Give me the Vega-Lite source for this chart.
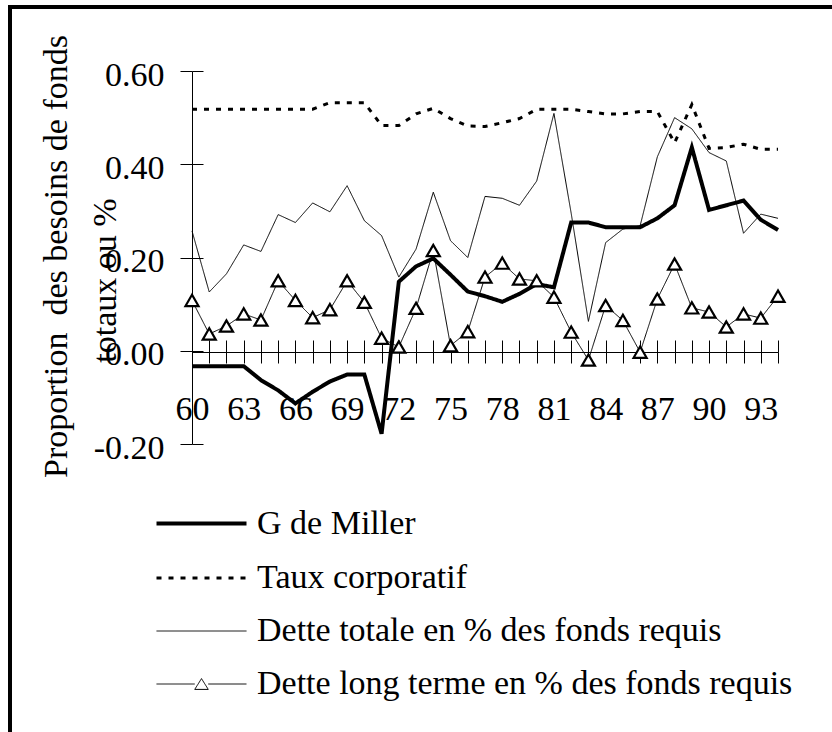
{
  "$schema": "https://vega.github.io/schema/vega-lite/v6.json",
  "width": 826,
  "height": 729,
  "autosize": {"type": "none"},
  "padding": {"left": 10, "top": 7, "right": -4, "bottom": -4},
  "background": "white",
  "config": {
    "view": {"stroke": "black", "strokeWidth": 4},
    "font": "Liberation Serif",
    "axis": {"labelFont": "Liberation Serif", "labelFontSize": 34, "labelColor": "black", "tickColor": "black", "domainColor": "black", "grid": false, "titleFont": "Liberation Serif", "titleFontSize": 34, "titleFontWeight": "normal", "titleColor": "black"},
    "legend": {"labelFont": "Liberation Serif", "labelFontSize": 34, "labelColor": "black", "padding": 0}
  },
  "data": {"values": [
    {"year": 60, "series": "G de Miller", "value": -0.033},
    {"year": 61, "series": "G de Miller", "value": -0.033},
    {"year": 62, "series": "G de Miller", "value": -0.033},
    {"year": 63, "series": "G de Miller", "value": -0.033},
    {"year": 64, "series": "G de Miller", "value": -0.063},
    {"year": 65, "series": "G de Miller", "value": -0.085},
    {"year": 66, "series": "G de Miller", "value": -0.113},
    {"year": 67, "series": "G de Miller", "value": -0.088},
    {"year": 68, "series": "G de Miller", "value": -0.066},
    {"year": 69, "series": "G de Miller", "value": -0.051},
    {"year": 70, "series": "G de Miller", "value": -0.051},
    {"year": 71, "series": "G de Miller", "value": -0.178},
    {"year": 72, "series": "G de Miller", "value": 0.148},
    {"year": 73, "series": "G de Miller", "value": 0.181},
    {"year": 74, "series": "G de Miller", "value": 0.198},
    {"year": 75, "series": "G de Miller", "value": 0.163},
    {"year": 76, "series": "G de Miller", "value": 0.127},
    {"year": 77, "series": "G de Miller", "value": 0.117},
    {"year": 78, "series": "G de Miller", "value": 0.105},
    {"year": 79, "series": "G de Miller", "value": 0.122},
    {"year": 80, "series": "G de Miller", "value": 0.143},
    {"year": 81, "series": "G de Miller", "value": 0.136},
    {"year": 82, "series": "G de Miller", "value": 0.275},
    {"year": 83, "series": "G de Miller", "value": 0.275},
    {"year": 84, "series": "G de Miller", "value": 0.265},
    {"year": 85, "series": "G de Miller", "value": 0.265},
    {"year": 86, "series": "G de Miller", "value": 0.265},
    {"year": 87, "series": "G de Miller", "value": 0.284},
    {"year": 88, "series": "G de Miller", "value": 0.312},
    {"year": 89, "series": "G de Miller", "value": 0.436},
    {"year": 90, "series": "G de Miller", "value": 0.302},
    {"year": 91, "series": "G de Miller", "value": 0.312},
    {"year": 92, "series": "G de Miller", "value": 0.322},
    {"year": 93, "series": "G de Miller", "value": 0.281},
    {"year": 94, "series": "G de Miller", "value": 0.259},
    {"year": 60, "series": "Taux corporatif", "value": 0.518},
    {"year": 61, "series": "Taux corporatif", "value": 0.518},
    {"year": 62, "series": "Taux corporatif", "value": 0.518},
    {"year": 63, "series": "Taux corporatif", "value": 0.518},
    {"year": 64, "series": "Taux corporatif", "value": 0.518},
    {"year": 65, "series": "Taux corporatif", "value": 0.518},
    {"year": 66, "series": "Taux corporatif", "value": 0.518},
    {"year": 67, "series": "Taux corporatif", "value": 0.518},
    {"year": 68, "series": "Taux corporatif", "value": 0.532},
    {"year": 69, "series": "Taux corporatif", "value": 0.532},
    {"year": 70, "series": "Taux corporatif", "value": 0.532},
    {"year": 71, "series": "Taux corporatif", "value": 0.483},
    {"year": 72, "series": "Taux corporatif", "value": 0.483},
    {"year": 73, "series": "Taux corporatif", "value": 0.508},
    {"year": 74, "series": "Taux corporatif", "value": 0.52},
    {"year": 75, "series": "Taux corporatif", "value": 0.498},
    {"year": 76, "series": "Taux corporatif", "value": 0.482},
    {"year": 77, "series": "Taux corporatif", "value": 0.481},
    {"year": 78, "series": "Taux corporatif", "value": 0.489},
    {"year": 79, "series": "Taux corporatif", "value": 0.498},
    {"year": 80, "series": "Taux corporatif", "value": 0.518},
    {"year": 81, "series": "Taux corporatif", "value": 0.518},
    {"year": 82, "series": "Taux corporatif", "value": 0.518},
    {"year": 83, "series": "Taux corporatif", "value": 0.513},
    {"year": 84, "series": "Taux corporatif", "value": 0.508},
    {"year": 85, "series": "Taux corporatif", "value": 0.508},
    {"year": 86, "series": "Taux corporatif", "value": 0.513},
    {"year": 87, "series": "Taux corporatif", "value": 0.513},
    {"year": 88, "series": "Taux corporatif", "value": 0.446},
    {"year": 89, "series": "Taux corporatif", "value": 0.528},
    {"year": 90, "series": "Taux corporatif", "value": 0.434},
    {"year": 91, "series": "Taux corporatif", "value": 0.436},
    {"year": 92, "series": "Taux corporatif", "value": 0.443},
    {"year": 93, "series": "Taux corporatif", "value": 0.432},
    {"year": 94, "series": "Taux corporatif", "value": 0.432},
    {"year": 60, "series": "Dette totale en % des fonds requis", "value": 0.257},
    {"year": 61, "series": "Dette totale en % des fonds requis", "value": 0.126},
    {"year": 62, "series": "Dette totale en % des fonds requis", "value": 0.165},
    {"year": 63, "series": "Dette totale en % des fonds requis", "value": 0.227},
    {"year": 64, "series": "Dette totale en % des fonds requis", "value": 0.213},
    {"year": 65, "series": "Dette totale en % des fonds requis", "value": 0.292},
    {"year": 66, "series": "Dette totale en % des fonds requis", "value": 0.275},
    {"year": 67, "series": "Dette totale en % des fonds requis", "value": 0.317},
    {"year": 68, "series": "Dette totale en % des fonds requis", "value": 0.298},
    {"year": 69, "series": "Dette totale en % des fonds requis", "value": 0.354},
    {"year": 70, "series": "Dette totale en % des fonds requis", "value": 0.279},
    {"year": 71, "series": "Dette totale en % des fonds requis", "value": 0.247},
    {"year": 72, "series": "Dette totale en % des fonds requis", "value": 0.158},
    {"year": 73, "series": "Dette totale en % des fonds requis", "value": 0.218},
    {"year": 74, "series": "Dette totale en % des fonds requis", "value": 0.34},
    {"year": 75, "series": "Dette totale en % des fonds requis", "value": 0.236},
    {"year": 76, "series": "Dette totale en % des fonds requis", "value": 0.2},
    {"year": 77, "series": "Dette totale en % des fonds requis", "value": 0.331},
    {"year": 78, "series": "Dette totale en % des fonds requis", "value": 0.327},
    {"year": 79, "series": "Dette totale en % des fonds requis", "value": 0.312},
    {"year": 80, "series": "Dette totale en % des fonds requis", "value": 0.364},
    {"year": 81, "series": "Dette totale en % des fonds requis", "value": 0.509},
    {"year": 82, "series": "Dette totale en % des fonds requis", "value": 0.295},
    {"year": 83, "series": "Dette totale en % des fonds requis", "value": 0.063},
    {"year": 84, "series": "Dette totale en % des fonds requis", "value": 0.232},
    {"year": 85, "series": "Dette totale en % des fonds requis", "value": 0.261},
    {"year": 86, "series": "Dette totale en % des fonds requis", "value": 0.268},
    {"year": 87, "series": "Dette totale en % des fonds requis", "value": 0.416},
    {"year": 88, "series": "Dette totale en % des fonds requis", "value": 0.5},
    {"year": 89, "series": "Dette totale en % des fonds requis", "value": 0.476},
    {"year": 90, "series": "Dette totale en % des fonds requis", "value": 0.425},
    {"year": 91, "series": "Dette totale en % des fonds requis", "value": 0.407},
    {"year": 92, "series": "Dette totale en % des fonds requis", "value": 0.252},
    {"year": 93, "series": "Dette totale en % des fonds requis", "value": 0.293},
    {"year": 94, "series": "Dette totale en % des fonds requis", "value": 0.284},
    {"year": 60, "series": "Dette long terme en % des fonds requis", "value": 0.108},
    {"year": 61, "series": "Dette long terme en % des fonds requis", "value": 0.036},
    {"year": 62, "series": "Dette long terme en % des fonds requis", "value": 0.053},
    {"year": 63, "series": "Dette long terme en % des fonds requis", "value": 0.079},
    {"year": 64, "series": "Dette long terme en % des fonds requis", "value": 0.066},
    {"year": 65, "series": "Dette long terme en % des fonds requis", "value": 0.15},
    {"year": 66, "series": "Dette long terme en % des fonds requis", "value": 0.108},
    {"year": 67, "series": "Dette long terme en % des fonds requis", "value": 0.071},
    {"year": 68, "series": "Dette long terme en % des fonds requis", "value": 0.088},
    {"year": 69, "series": "Dette long terme en % des fonds requis", "value": 0.15},
    {"year": 70, "series": "Dette long terme en % des fonds requis", "value": 0.104},
    {"year": 71, "series": "Dette long terme en % des fonds requis", "value": 0.027},
    {"year": 72, "series": "Dette long terme en % des fonds requis", "value": 0.008},
    {"year": 73, "series": "Dette long terme en % des fonds requis", "value": 0.091},
    {"year": 74, "series": "Dette long terme en % des fonds requis", "value": 0.215},
    {"year": 75, "series": "Dette long terme en % des fonds requis", "value": 0.011},
    {"year": 76, "series": "Dette long terme en % des fonds requis", "value": 0.041},
    {"year": 77, "series": "Dette long terme en % des fonds requis", "value": 0.158},
    {"year": 78, "series": "Dette long terme en % des fonds requis", "value": 0.188},
    {"year": 79, "series": "Dette long terme en % des fonds requis", "value": 0.154},
    {"year": 80, "series": "Dette long terme en % des fonds requis", "value": 0.15},
    {"year": 81, "series": "Dette long terme en % des fonds requis", "value": 0.115},
    {"year": 82, "series": "Dette long terme en % des fonds requis", "value": 0.04},
    {"year": 83, "series": "Dette long terme en % des fonds requis", "value": -0.02},
    {"year": 84, "series": "Dette long terme en % des fonds requis", "value": 0.097},
    {"year": 85, "series": "Dette long terme en % des fonds requis", "value": 0.065},
    {"year": 86, "series": "Dette long terme en % des fonds requis", "value": -0.003},
    {"year": 87, "series": "Dette long terme en % des fonds requis", "value": 0.111},
    {"year": 88, "series": "Dette long terme en % des fonds requis", "value": 0.186},
    {"year": 89, "series": "Dette long terme en % des fonds requis", "value": 0.092},
    {"year": 90, "series": "Dette long terme en % des fonds requis", "value": 0.083},
    {"year": 91, "series": "Dette long terme en % des fonds requis", "value": 0.051},
    {"year": 92, "series": "Dette long terme en % des fonds requis", "value": 0.079},
    {"year": 93, "series": "Dette long terme en % des fonds requis", "value": 0.07},
    {"year": 94, "series": "Dette long terme en % des fonds requis", "value": 0.117}
  ]},
  "layer": [
    {
      "mark": {"type": "line", "strokeCap": "butt", "strokeJoin": "miter"},
      "encoding": {
        "x": {"field": "year", "type": "quantitative",
          "scale": {"domain": [60, 94], "range": [182, 768], "nice": false, "zero": false},
          "axis": {"orient": "bottom", "offset": -384, "values": [60,61,62,63,64,65,66,67,68,69,70,71,72,73,74,75,76,77,78,79,80,81,82,83,84,85,86,87,88,89,90,91,92,93,94],
            "labelExpr": "(datum.value - 60) % 3 === 0 ? datum.value : ''", "tickSize": 11, "labelBaseline": "alphabetic", "labelPadding": 56, "labelFlush": false, "labelOverlap": false, "title": null}},
        "y": {"field": "value", "type": "quantitative",
          "scale": {"domain": [-0.2, 0.6], "range": [437, 64], "nice": false, "zero": false},
          "axis": {"orient": "left", "offset": -182, "values": [-0.2, 0, 0.2, 0.4, 0.6], "labelExpr": "replace(format(datum.value, '.2f'), '\u2212', '-')", "tickSize": 12, "labelPadding": 16, "labelOffset": 4, "labelBaseline": "middle",
            "title": "Proportion\u00a0 des besoins de fonds",
            "titleAngle": 270, "titleAlign": "center", "titleBaseline": "alphabetic", "titleX": -126, "titleY": 249}},
        "color": {"field": "series", "type": "nominal",
          "scale": {"domain": ["G de Miller", "Taux corporatif", "Dette totale en % des fonds requis", "Dette long terme en % des fonds requis"], "range": ["black", "black", "black", "black"]},
          "legend": {"orient": "none", "legendX": 167, "legendY": 492, "title": null, "symbolType": "stroke", "symbolSize": 2025, "labelLimit": 1000, "labelOffset": 31, "rowPadding": 13,
            "encode": {"symbols": {"update": {"shape": {"signal": "datum.value === 'Dette long terme en % des fonds requis' ? 'M-2,0L-0.3,0M0.3,0L2,0M0,-0.24L-0.3,0.24L0.3,0.24Z' : 'M-2,0L2,0'"}}}}}},
        "strokeDash": {"field": "series", "type": "nominal",
          "scale": {"domain": ["G de Miller", "Taux corporatif", "Dette totale en % des fonds requis", "Dette long terme en % des fonds requis"], "range": [[1, 0], [5, 7], [1, 0], [1, 0]]}},
        "strokeWidth": {"field": "series", "type": "nominal",
          "scale": {"type": "ordinal", "domain": ["G de Miller", "Taux corporatif", "Dette totale en % des fonds requis", "Dette long terme en % des fonds requis"], "range": [4, 3, 1, 1]}}
      }
    },
    {
      "transform": [{"filter": "datum.series === 'Dette long terme en % des fonds requis'"}],
      "mark": {"type": "point", "shape": "triangle-up", "filled": true, "fill": "white", "stroke": "black", "strokeWidth": 2.2, "size": 170, "opacity": 1},
      "encoding": {
        "x": {"field": "year", "type": "quantitative",
          "scale": {"domain": [60, 94], "range": [182, 768], "nice": false, "zero": false},
          "axis": {"orient": "bottom", "offset": -384, "values": [60,61,62,63,64,65,66,67,68,69,70,71,72,73,74,75,76,77,78,79,80,81,82,83,84,85,86,87,88,89,90,91,92,93,94], "tickSize": -12, "labels": false, "domain": false,
            "title": "totaux ou %", "titleAngle": 270, "titleAlign": "center", "titleBaseline": "alphabetic", "titleX": 105, "titleY": -72}},
        "y": {"field": "value", "type": "quantitative",
          "scale": {"domain": [-0.2, 0.6], "range": [437, 64], "nice": false, "zero": false},
          "axis": {"orient": "left", "offset": -182, "values": [-0.2, 0, 0.2, 0.4, 0.6], "tickSize": -11, "labels": false, "domain": false, "title": null}}
      }
    }
  ],
  "resolve": {"axis": {"x": "independent", "y": "independent"}}
}
